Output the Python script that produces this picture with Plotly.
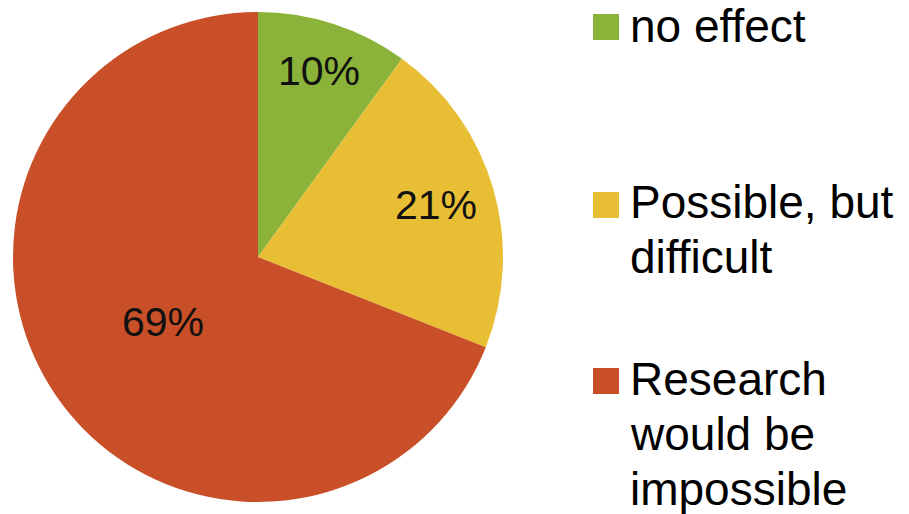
import math
import plotly.graph_objects as go

# Survey answers and their shares (percent)
labels = ["no effect", "Possible, but<br>difficult", "Research<br>would be<br>impossible"]
values = [10, 21, 69]
colors = ["#8BB33A", "#E8BE35", "#C84F27"]

W, H = 909, 514
FONT = "Liberation Sans, Arial, sans-serif"

# Pie geometry in pixels (paper with zero margins)
cx, cy, R = 258, 257, 245

fig = go.Figure(
    go.Pie(
        labels=labels,
        values=values,
        sort=False,
        direction="clockwise",
        rotation=0,
        marker=dict(colors=colors, line=dict(width=0)),
        textinfo="none",
        domain=dict(x=[(cx - R) / W, (cx + R) / W], y=[(H - cy - R) / H, (H - cy + R) / H]),
        showlegend=False,
        hoverinfo="label+percent",
    )
)

annotations, shapes = [], []

# Percentage labels along each slice's bisector
label_radius = [0.80, 0.755, 0.47]
total = sum(values)
start = 0.0
for v, rf in zip(values, label_radius):
    span = 360.0 * v / total
    mid = math.radians(start + span / 2)
    start += span
    px = cx + rf * R * math.sin(mid)
    py = cy - rf * R * math.cos(mid)
    annotations.append(dict(
        text=f"{round(100 * v / total)}%", xref="paper", yref="paper",
        x=px / W, y=1 - py / H, xanchor="center", yanchor="middle",
        showarrow=False, font=dict(family=FONT, size=41, color="#111111"),
    ))

# Legend: coloured squares with multi-line labels beside them
LEG_SIZE = 46
LINE_GAP = 55
square_tops = [14, 192, 368]
first_baselines = [42, 218, 395]
for lab, col, top, base in zip(labels, colors, square_tops, first_baselines):
    shapes.append(dict(
        type="rect", xref="paper", yref="paper",
        x0=593 / W, x1=619 / W, y0=1 - top / H, y1=1 - (top + 26) / H,
        fillcolor=col, line=dict(width=0),
    ))
    for k, line in enumerate(lab.split("<br>")):
        mid_y = base + k * LINE_GAP - 0.347 * LEG_SIZE
        annotations.append(dict(
            text=line, xref="paper", yref="paper",
            x=628 / W, y=1 - mid_y / H, xanchor="left", yanchor="middle",
            align="left", showarrow=False,
            font=dict(family=FONT, size=LEG_SIZE, color="#000000"),
        ))

fig.update_layout(
    width=W, height=H,
    margin=dict(l=0, r=0, t=0, b=0),
    paper_bgcolor="white",
    plot_bgcolor="white",
    shapes=shapes,
    annotations=annotations,
)

fig.write_html("out.html")
